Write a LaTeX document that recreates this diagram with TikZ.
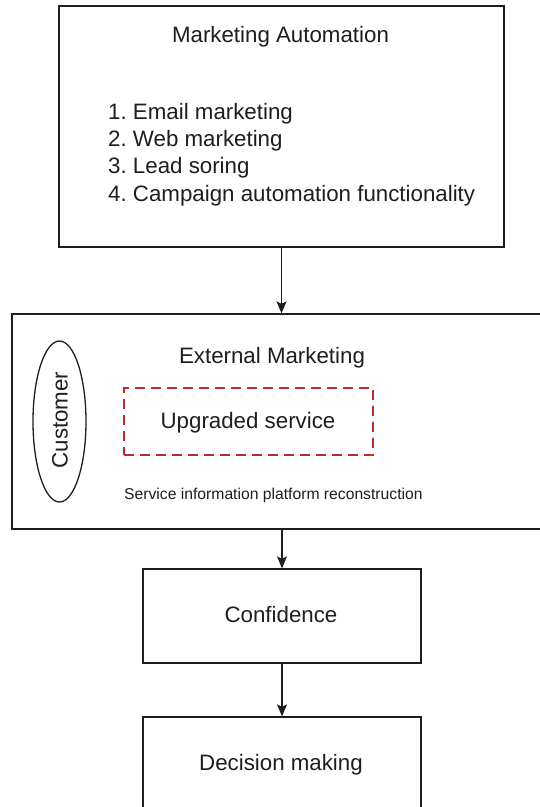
\documentclass[tikz,border=0pt]{standalone}
\usepackage{fontspec}
\setmainfont{Liberation Sans}
\usetikzlibrary{arrows.meta,shapes.geometric}
\definecolor{ink}{HTML}{1E1E1E}
\definecolor{dashred}{HTML}{C4262B}
\frenchspacing
\begin{document}
\begin{tikzpicture}[x=1pt,y=-1pt,
  box/.style={draw=ink,line width=1.3pt,rectangle,inner sep=0pt,fill=white},
  lbl/.style={inner sep=0pt,anchor=base,text=ink,font=\fontsize{22.3}{27.3}\selectfont},
  small/.style={inner sep=0pt,anchor=base west,text=ink,font=\fontsize{15.7}{19}\selectfont},
  arr/.style={draw=ink,line width=1.3pt,-{Stealth[length=12pt,width=10pt,inset=2.5pt]}},
  redbox/.style={draw=dashred,line width=2.2pt,dash pattern=on 10pt off 6pt,rectangle,inner sep=0pt}]
\useasboundingbox (0,0) rectangle (539,807);
\fill[white] (0,0) rectangle (539,807);

% top block: marketing automation
\node[box,minimum width=445pt,minimum height=241pt] (ma) at (281.5,126.5) {};
\node[lbl] (matitle) at (280.5,42) {Marketing Automation};
\node[lbl,anchor=base west,align=left] (malist) at (108,201)
  {1. Email marketing\\2. Web marketing\\3. Lead soring\\4. Campaign automation functionality};

% external marketing block (runs past the right edge)
\node[box,minimum width=560pt,minimum height=215pt] (ext) at (292,421.5) {};
\node[lbl] (exttitle) at (272,363) {External Marketing};
\node[draw=ink,line width=1.3pt,ellipse,minimum width=53pt,minimum height=161pt,inner sep=0pt] (cust) at (59.5,421.5) {};
\node[lbl,rotate=90,anchor=base] (custtext) at (67.5,420) {Customer};
\node[redbox,minimum width=249pt,minimum height=67pt] (up) at (248.5,421.5) {};
\node[lbl] (uptext) at (248,428) {Upgraded service};
\node[small] (platform) at (124,499) {Service information platform reconstruction};

% confidence and decision blocks
\node[box,minimum width=278pt,minimum height=94pt] (conf) at (282,616) {};
\node[lbl] (conftext) at (281,622) {Confidence};
\node[box,minimum width=278pt,minimum height=120pt] (dec) at (282,777) {};
\node[lbl] (dectext) at (281,770) {Decision making};

% connectors
\draw[arr] (ma.south) -- (ma.south |- ext.north);
\draw[arr] (ext.south -| conf.north) -- (conf.north);
\draw[arr] (conf.south) -- (dec.north);
\end{tikzpicture}
\end{document}
